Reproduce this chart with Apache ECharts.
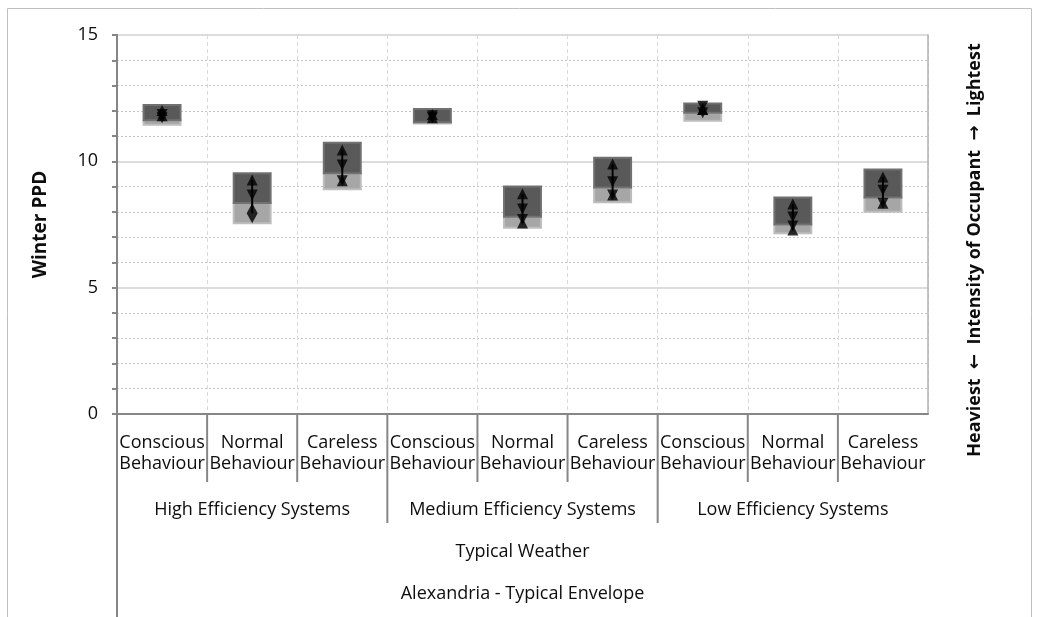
<!DOCTYPE html>
<html>
<head>
<meta charset="utf-8">
<style>
  html, body { margin: 0; padding: 0; background: #fff; }
  #chart { width: 1039px; height: 617px; }
</style>
<script src="https://cdn.jsdelivr.net/npm/echarts@6/dist/echarts.min.js"></script>
</head>
<body>
<div id="chart"></div>
<script>
// Behaviour categories (first label row) and the grouping rows beneath them
const categories = [
  'Conscious\nBehaviour', 'Normal\nBehaviour', 'Careless\nBehaviour',
  'Conscious\nBehaviour', 'Normal\nBehaviour', 'Careless\nBehaviour',
  'Conscious\nBehaviour', 'Normal\nBehaviour', 'Careless\nBehaviour'
];
const systems = ['High Efficiency Systems', 'Medium Efficiency Systems', 'Low Efficiency Systems'];
const weather = ['Typical Weather'];
const envelope = ['Alexandria - Typical Envelope'];

// Range boxes: light band from boxLow to boxMid, dark band from boxMid to boxHigh
const boxLow  = [11.45, 7.55, 8.90, 11.50, 7.37, 8.38, 11.61, 7.15, 8.00];
const boxMid  = [11.63, 8.35, 9.53, 11.55, 7.81, 8.96, 11.92, 7.50, 8.57];
const boxHigh = [12.23, 9.53, 10.74, 12.07, 9.00, 10.14, 12.29, 8.57, 9.68];

// Occupant-intensity markers
const upMarks       = [12.01, 9.26, 10.45, 11.85, 8.72, 9.89, 12.05, 8.31, 9.38];
const downMarks     = [11.85, 8.67, 9.85, 11.80, 8.11, 9.19, 12.18, 7.80, 8.86];
const lowDownMarks  = [11.72, null, 9.23, 11.72, 7.70, 8.67, 11.92, 7.44, 8.34];
const lowUpMarks    = [11.80, null, 9.23, 11.72, 7.56, 8.67, 12.05, 7.28, 8.34];
const diamondMarks  = [null, 7.95, null, null, null, null, null, null, null];

const yTicks = { min: 0, max: 15, interval: 5 };

const FONT = '"Open Sans", "Noto Sans", sans-serif';
const TEXT = '#0d0d0d';
const AXIS = '#868686';

const chart = echarts.init(document.getElementById('chart'), null, { renderer: 'canvas' });

const boxData = categories.map((c, i) => [i, boxLow[i], boxMid[i], boxHigh[i]]);
const allMarks = [upMarks, downMarks, lowDownMarks, lowUpMarks, diamondMarks];
const rangeData = categories.map((c, i) => {
  const vals = allMarks.map(a => a[i]).filter(v => v != null);
  return [i, Math.min(...vals), Math.max(...vals)];
});
const pts = arr => arr.map((v, i) => (v == null ? null : [i, v])).filter(Boolean);

const DOWN_TRI = 'path://M0,0 L10,0 L5,10 Z';

function labelAxis(data, margin) {
  return {
    type: 'category', data, gridIndex: 0, position: 'bottom',
    axisLine: { show: false }, axisTick: { show: false }, splitLine: { show: false },
    axisLabel: { interval: 0, margin, fontFamily: FONT, fontSize: 18, lineHeight: 21, color: TEXT }
  };
}

chart.setOption({
  animation: false,
  backgroundColor: '#fff',
  grid: { left: 117, right: 111, top: 35, bottom: 203, containLabel: false },
  xAxis: [
    {
      type: 'category', data: categories, gridIndex: 0, position: 'bottom',
      axisLine: { show: true, lineStyle: { color: AXIS, width: 2 } },
      axisTick: { show: false },
      splitLine: { show: true, lineStyle: { color: '#d9d9d9', type: [4, 3], width: 1 } },
      axisLabel: { interval: 0, margin: 18, fontFamily: FONT, fontSize: 18, lineHeight: 21, color: TEXT }
    },
    labelAxis(systems, 85),
    labelAxis(weather, 127),
    labelAxis(envelope, 169)
  ],
  yAxis: [
    {
      type: 'value', min: yTicks.min, max: yTicks.max, interval: yTicks.interval,
      name: 'Winter PPD', nameLocation: 'middle', nameGap: 67, nameRotate: 90,
      nameTextStyle: { fontFamily: FONT, fontSize: 19, fontWeight: 'bold', color: TEXT },
      axisLine: { show: true, lineStyle: { color: AXIS, width: 2 } },
      axisTick: { show: true, length: 5, lineStyle: { color: AXIS, width: 2 } },
      minorTick: { show: true, splitNumber: 5, length: 5, lineStyle: { color: AXIS, width: 2 } },
      splitLine: { show: true, lineStyle: { color: '#d0d0d0', width: 1.5 } },
      minorSplitLine: { show: true, lineStyle: { color: '#c4c4c4', type: [2, 2], width: 1 } },
      axisLabel: { margin: 19, fontFamily: FONT, fontSize: 18, color: TEXT }
    },
    {
      type: 'value', position: 'right', min: yTicks.min, max: yTicks.max, interval: yTicks.interval,
      axisLine: { show: true, lineStyle: { color: '#b0b0b0', width: 1.5 } },
      axisTick: { show: false }, axisLabel: { show: false }, splitLine: { show: false }
    }
  ],
  series: [
    {
      name: 'range boxes', type: 'custom', xAxisIndex: 0, yAxisIndex: 0,
      data: boxData, encode: { x: 0, y: [1, 2, 3] }, z: 2,
      renderItem(params, api) {
        const i = api.value(0);
        const half = api.size([1, 0])[0] * 0.205;
        const pLow = api.coord([i, api.value(1)]);
        const pMid = api.coord([i, api.value(2)]);
        const pHigh = api.coord([i, api.value(3)]);
        const x = pLow[0] - half, w = half * 2;
        return {
          type: 'group',
          children: [
            { type: 'rect', shape: { x, y: pMid[1], width: w, height: pLow[1] - pMid[1] },
              style: { fill: '#a6a6a6', stroke: '#bdbdbd', lineWidth: 2 } },
            { type: 'rect', shape: { x, y: pHigh[1], width: w, height: pMid[1] - pHigh[1] },
              style: { fill: '#595959', stroke: '#717171', lineWidth: 2 } }
          ]
        };
      }
    },
    {
      name: 'range line', type: 'custom', xAxisIndex: 0, yAxisIndex: 0,
      data: rangeData, encode: { x: 0, y: [1, 2] }, z: 3,
      renderItem(params, api) {
        const a = api.coord([api.value(0), api.value(1)]);
        const b = api.coord([api.value(0), api.value(2)]);
        return { type: 'line', shape: { x1: a[0], y1: a[1], x2: b[0], y2: b[1] },
                 style: { stroke: '#000', lineWidth: 2 } };
      }
    },
    { name: 'up', type: 'scatter', data: pts(upMarks), symbol: 'triangle', symbolSize: [11, 11],
      itemStyle: { color: '#000' }, z: 4 },
    { name: 'down', type: 'scatter', data: pts(downMarks), symbol: DOWN_TRI, symbolSize: [11, 11],
      itemStyle: { color: '#000' }, z: 4 },
    { name: 'low down', type: 'scatter', data: pts(lowDownMarks), symbol: DOWN_TRI, symbolSize: [11, 11],
      itemStyle: { color: '#000' }, z: 4 },
    { name: 'low up', type: 'scatter', data: pts(lowUpMarks), symbol: 'triangle', symbolSize: [11, 11],
      itemStyle: { color: '#000' }, z: 4 },
    { name: 'diamond', type: 'scatter', data: pts(diamondMarks), symbol: 'diamond', symbolSize: [11, 20],
      itemStyle: { color: '#000' }, z: 4 }
  ]
});

// Category separators beneath the axis, plus the secondary axis title and chart frame
function drawExtras() {
  const cx = i => chart.convertToPixel({ xAxisIndex: 0 }, i);
  const step = cx(1) - cx(0);
  const edge = k => cx(0) - step / 2 + k * step;
  const y0 = chart.convertToPixel({ yAxisIndex: 0 }, 0);
  const sep = (x, len) => ({
    type: 'line', shape: { x1: x, y1: y0, x2: x, y2: y0 + len },
    style: { stroke: AXIS, lineWidth: 2 }, silent: true
  });
  const els = [];
  for (let k = 1; k < categories.length; k++) {
    els.push(sep(edge(k), k % 3 === 0 ? 109 : 68));
  }
  els.push(sep(edge(0), 220));
  els.push({
    type: 'text', x: 975, y: 250, rotation: Math.PI / 2,
    style: {
      text: '{t|Heaviest}  {a|\u2190}  {t|Intensity of Occupant}  {a|\u2192}  {t|Lightest}',
      font: 'bold 18px ' + FONT, fill: TEXT, align: 'center', verticalAlign: 'middle',
      rich: {
        t: { fontFamily: FONT, fontSize: 18, fontWeight: 'bold', fill: TEXT },
        a: { fontFamily: '"DejaVu Sans"', fontSize: 18, fontWeight: 'bold', fill: TEXT }
      }
    },
    silent: true
  });
  els.push({
    type: 'rect', shape: { x: 7.5, y: 8.5, width: 1024, height: 700 },
    style: { fill: 'none', stroke: '#bfbfbf', lineWidth: 1 }, silent: true
  });
  chart.setOption({ graphic: els });
}
drawExtras();
</script>
</body>
</html>
